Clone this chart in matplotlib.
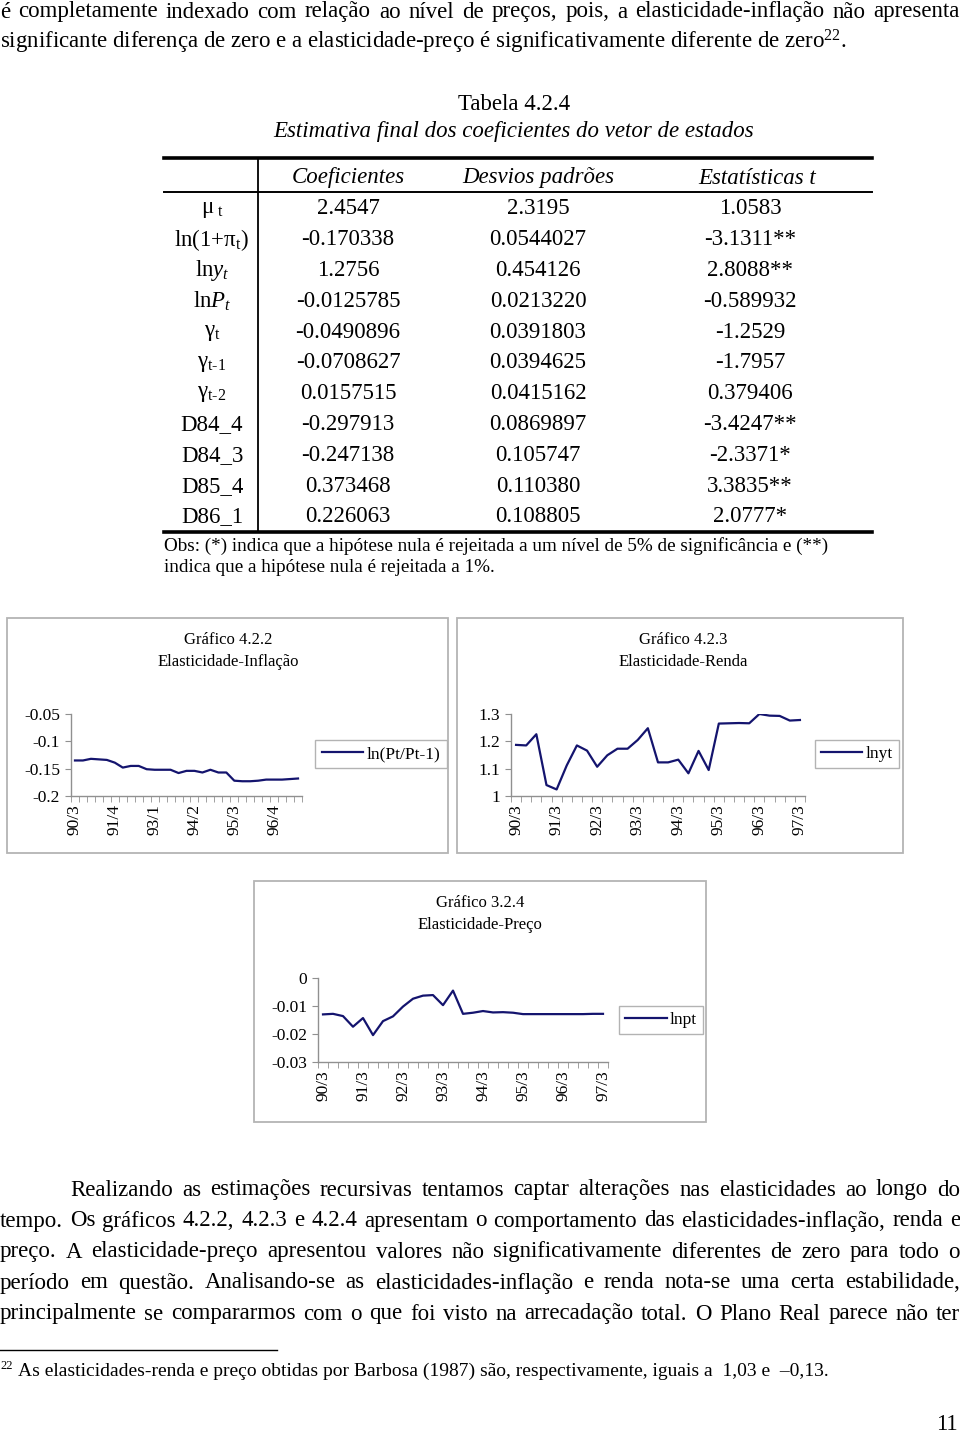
import matplotlib
matplotlib.use('Agg')
import matplotlib.pyplot as plt
from matplotlib.patches import Rectangle
from matplotlib.lines import Line2D

# ---- data -------------------------------------------------------------
quarters = ['90/3', '90/4', '91/1', '91/2', '91/3', '91/4', '92/1', '92/2',
            '92/3', '92/4', '93/1', '93/2', '93/3', '93/4', '94/1', '94/2',
            '94/3', '94/4', '95/1', '95/2', '95/3', '95/4', '96/1', '96/2',
            '96/3', '96/4', '97/1', '97/2', '97/3']

elast_inflacao = [-0.135, -0.135, -0.132, -0.133, -0.134, -0.139, -0.148, -0.145,
                  -0.145, -0.151, -0.152, -0.152, -0.152, -0.158, -0.154, -0.154,
                  -0.157, -0.152, -0.157, -0.157, -0.172, -0.173, -0.173, -0.172,
                  -0.170, -0.170, -0.170, -0.169, -0.168]

elast_renda = [1.187, 1.185, 1.226, 1.040, 1.024, 1.112, 1.185, 1.166,
               1.107, 1.149, 1.173, 1.173, 1.205, 1.248, 1.123, 1.123,
               1.133, 1.083, 1.165, 1.095, 1.265, 1.266, 1.267, 1.266,
               1.300, 1.294, 1.293, 1.276, 1.278]

elast_preco = [-0.0130, -0.0128, -0.0136, -0.0174, -0.0143, -0.0204, -0.0154, -0.0137,
               -0.0102, -0.0074, -0.0063, -0.0061, -0.0097, -0.0045, -0.0128, -0.0124,
               -0.0118, -0.0123, -0.0122, -0.0124, -0.0129, -0.0129, -0.0129, -0.0129,
               -0.0129, -0.0129, -0.0129, -0.0128, -0.0128]

yticks_inflacao = [-0.2, -0.15, -0.1, -0.05]
ylabels_inflacao = ['-0.2', '-0.15', '-0.1', '-0.05']
yticks_renda = [1.0, 1.1, 1.2, 1.3]
ylabels_renda = ['1', '1.1', '1.2', '1.3']
yticks_preco = [-0.03, -0.02, -0.01, 0.0]
ylabels_preco = ['-0.03', '-0.02', '-0.01', '0']

table_header = ['Coeficientes', 'Desvios padrões', 'Estatísticas t']
row_labels = [r'$\mathrm{\mu}_{\mathrm{\ t}}$',
              r'ln(1+$\mathrm{\pi}_{\mathrm{t}}$)',
              r'ln$y_t$',
              r'ln$P_t$',
              r'$\mathrm{\gamma}_{\mathrm{t}}$',
              r'$\mathrm{\gamma}_{\mathrm{t\text{-}1}}$',
              r'$\mathrm{\gamma}_{\mathrm{t\text{-}2}}$',
              'D84_4', 'D84_3', 'D85_4', 'D86_1']
coeficientes = ['2.4547', '-0.170338', '1.2756', '-0.0125785', '-0.0490896',
                '-0.0708627', '0.0157515', '-0.297913', '-0.247138', '0.373468',
                '0.226063']
desvios = ['2.3195', '0.0544027', '0.454126', '0.0213220', '0.0391803',
           '0.0394625', '0.0415162', '0.0869897', '0.105747', '0.110380',
           '0.108805']
estat_t = ['1.0583', '-3.1311**', '2.8088**', '-0.589932', '-1.2529',
           '-1.7957', '0.379406', '-3.4247**', '-2.3371*', '3.3835**',
           '2.0777*']

# ---- texts ------------------------------------------------------------
top_line1 = ('é completamente indexado com relação ao nível de preços, pois, '
             'a elasticidade-inflação não apresenta')
top_line2 = ('significante diferença de zero e a elasticidade-preço é '
             'significativamente diferente de zero$^{22}$.')
obs_lines = ['Obs: (*) indica que a hipótese nula é rejeitada a um nível de 5% '
             'de significância e (**)',
             'indica que a hipótese nula é rejeitada a 1%.']
body_lines = ['Realizando as estimações recursivas tentamos captar alterações '
              'nas elasticidades ao longo do',
              'tempo. Os gráficos 4.2.2, 4.2.3 e 4.2.4 apresentam o comportamento '
              'das elasticidades-inflação, renda e',
              'preço. A elasticidade-preço apresentou valores não significativamente '
              'diferentes de zero para todo o',
              'período em questão. Analisando-se as elasticidades-inflação e renda '
              'nota-se uma certa estabilidade,',
              'principalmente se compararmos com o que foi visto na arrecadação '
              'total. O Plano Real parece não ter']
footnote = ('As elasticidades-renda e preço obtidas por Barbosa (1987) são, '
            'respectivamente, iguais a  1,03 e  –0,13.')

# ---- page setup -------------------------------------------------------
W, H = 960, 1433
plt.rcParams['font.family'] = ['Liberation Serif', 'DejaVu Serif']
plt.rcParams['mathtext.fontset'] = 'custom'
plt.rcParams['mathtext.rm'] = 'Liberation Serif'
plt.rcParams['mathtext.it'] = 'Liberation Serif:italic'
plt.rcParams['mathtext.bf'] = 'Liberation Serif:bold'

fig = plt.figure(figsize=(W / 100, H / 100), dpi=100)
fig.patch.set_facecolor('white')

BODY = 16.5
NAVY = '#14146e'
GRAY = '#909090'


def fx(px):
    return px / W


def fy(py):
    return 1 - py / H


def put(x, y, s, size=BODY, **kw):
    return fig.text(fx(x), fy(y), s, fontsize=size, va='center', **kw)


def hline(x0, x1, y, lw, color='black'):
    fig.add_artist(Line2D([fx(x0), fx(x1)], [fy(y), fy(y)], color=color,
                          lw=lw, transform=fig.transFigure))


def justify(line, y, x0, x1, size=BODY):
    # spread words so the line runs from x0 to x1
    words = line.split()
    texts = [put(0, y, w, size) for w in words]
    r = fig.canvas.get_renderer()
    widths = [t.get_window_extent(r).width for t in texts]
    gap = (x1 - x0 - sum(widths)) / (len(words) - 1)
    x = x0
    for t, w in zip(texts, widths):
        t.set_x(fx(x))
        x += w + gap


# ---- top paragraph ------------------------------------------------------
justify(top_line1, 12, 0, 960)
put(0, 42, top_line2)

# ---- table ------------------------------------------------------------
put(514, 104, 'Tabela 4.2.4', ha='center')
put(514, 131, 'Estimativa final dos coeficientes do vetor de estados',
    ha='center', style='italic')

hline(164, 872, 158, 2.6)
hline(164, 872, 192, 1.4)
hline(164, 872, 532, 2.6)
fig.add_artist(Line2D([fx(258), fx(258)], [fy(158), fy(532)], color='black',
                      lw=1.3, transform=fig.transFigure))

col_x = [348, 538, 750]
header_x = [348, 538, 757]
for x, h in zip(header_x, table_header):
    put(x, 178, h, ha='center', style='italic')

for i, lab in enumerate(row_labels):
    y = 209 + 30.8 * i
    put(212, y, lab, ha='center')
    put(col_x[0], y, coeficientes[i], ha='center')
    put(col_x[1], y, desvios[i], ha='center')
    put(col_x[2], y, estat_t[i], ha='center')

put(164, 546, obs_lines[0], size=13.8)
put(164, 568, obs_lines[1], size=13.8)


# ---- charts -----------------------------------------------------------
def chart(box, title, sub, title_x, axbox, values, yticks, ylabels, every,
          label, leg_center):
    x0, y0, x1, y1 = box
    fig.add_artist(Rectangle((fx(x0), fy(y1)), (x1 - x0) / W, (y1 - y0) / H,
                             transform=fig.transFigure, fill=False,
                             edgecolor='#b4b4b4', lw=1.3))
    put(title_x, y0 + 22, title, size=12, ha='center')
    put(title_x, y0 + 44, sub, size=12, ha='center')

    left, top, right, bottom = axbox
    ax = fig.add_axes([fx(left), fy(bottom), (right - left) / W,
                       (bottom - top) / H])
    n = len(quarters)
    ax.plot(range(n), values, color=NAVY, lw=1.6, label=label)
    ax.set_xlim(-0.5, n - 0.5)
    ax.set_ylim(yticks[0], yticks[-1])
    ax.set_yticks(yticks)
    ax.set_yticklabels(ylabels)
    ax.set_xticks(range(n))
    ax.set_xticklabels([q if i % every == 0 else '' for i, q in enumerate(quarters)],
                       rotation=90)
    ax.set_xticks([i - 0.5 for i in range(n + 1)], minor=True)
    ax.tick_params(axis='x', which='major', length=0, pad=6, labelsize=12.5)
    ax.tick_params(axis='x', which='minor', length=4, color=GRAY)
    ax.tick_params(axis='y', length=4, color=GRAY, labelsize=12.5, pad=4)
    for s in ['top', 'right']:
        ax.spines[s].set_visible(False)
    for s in ['left', 'bottom']:
        ax.spines[s].set_color(GRAY)
        ax.spines[s].set_linewidth(1)
    ax.patch.set_alpha(0)
    leg = ax.legend(loc='center', bbox_to_anchor=(fx(leg_center[0]), fy(leg_center[1])),
                    bbox_transform=fig.transFigure, fancybox=False,
                    edgecolor='#a0a0a0', fontsize=12.5, handlelength=2.4,
                    handletextpad=0.2, borderpad=0.35, borderaxespad=0)
    leg.get_frame().set_linewidth(1)
    return ax


chart((7, 618, 448, 853), 'Gráfico 4.2.2', 'Elasticidade-Inflação', 228,
      (71, 714, 302, 796), elast_inflacao, yticks_inflacao, ylabels_inflacao, 5,
      'ln(Pt/Pt-1)', (381, 754))

chart((457, 618, 903, 853), 'Gráfico 4.2.3', 'Elasticidade-Renda', 683,
      (511, 714, 805, 796), elast_renda, yticks_renda, ylabels_renda, 4,
      'lnyt', (857, 754))

chart((254, 881, 706, 1122), 'Gráfico 3.2.4', 'Elasticidade-Preço', 480,
      (318, 978, 608, 1062), elast_preco, yticks_preco, ylabels_preco, 4,
      'lnpt', (661, 1020))

# ---- bottom paragraph ---------------------------------------------------
for i, line in enumerate(body_lines):
    justify(line, 1190 + 31 * i, 70 if i == 0 else 0, 960)

hline(0, 277, 1350, 1.0)
put(0, 1366, '22', size=9)
put(18, 1371, footnote, size=14)
put(958, 1425, '11', ha='right')

fig.savefig('out.png', dpi=100, facecolor='white')
